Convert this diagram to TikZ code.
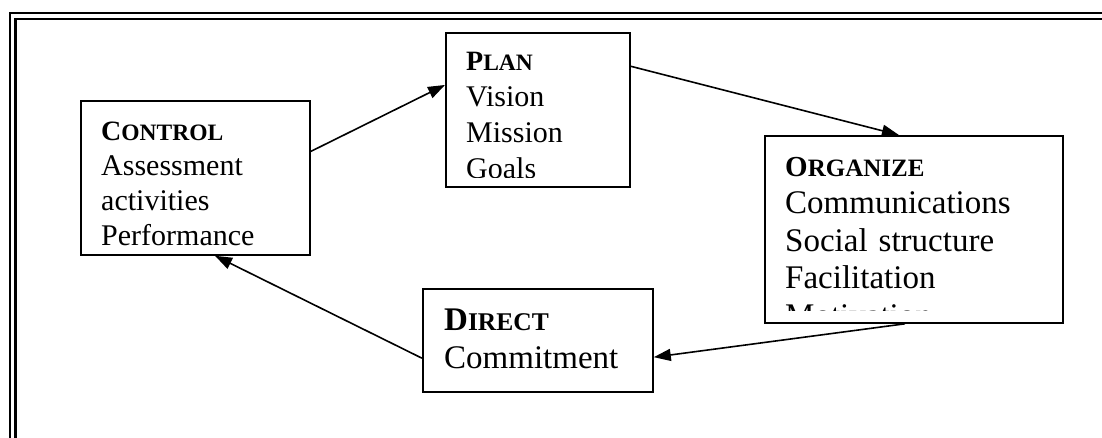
\documentclass[tikz,border=0pt]{standalone}
\usepackage{fontspec}
\setmainfont{Liberation Serif}
\usetikzlibrary{arrows.meta, calc}

% bold heading with a large first letter and faked small caps
\newcommand{\stagehead}[4]{{\bfseries\fontsize{#1}{#1}\selectfont #2\fontsize{#3}{#3}\selectfont #4}}

\begin{document}
\begin{tikzpicture}[x=1pt, y=-1pt,
		stage/.style={
			draw, line width=1.8pt, fill=white, anchor=north west, inner sep=0pt
		},
		stagetext/.style={
			anchor=base west, inner sep=0pt, align=left, text width=#1
		},
		arrow/.style={-{Triangle[length=17pt, width=12pt]}, line width=1.6pt},
		frame/.style={line width=2.4pt}
		]
		
		\useasboundingbox (0,0) rectangle (1102,437);
		\clip (0,0) rectangle (1102,437);
		
		\draw[frame] (10,13) rectangle (1140,480);
		\draw[frame] (15.5,19) rectangle (1134,474);
		
		\node[stage, minimum width=229pt, minimum height=154pt] (control) at (80,100) {};
		\node[stage, minimum width=184pt, minimum height=154pt] (plan) at (445,32) {};
		\node[stage, minimum width=298pt, minimum height=187pt] (organize) at (764,135) {};
		\node[stage, minimum width=230pt, minimum height=103pt] (direct) at (422,288) {};
		
		\begin{scope}
			\clip (control.north west) rectangle ([yshift=10pt]control.south east);
			\node[stagetext=200pt, font=\fontsize{30}{35}\selectfont] (controltxt) at (101,140)
			{\stagehead{28}{C}{23.5}{ONTROL}\\Assessment\\activities\\Performance};
		\end{scope}
		
		\begin{scope}
			\clip (plan.north west) rectangle ([yshift=10pt]plan.south east);
			\node[stagetext=160pt, font=\fontsize{30}{36}\selectfont] (plantxt) at (466,70)
			{\stagehead{28}{P}{23.5}{LAN}\\Vision\\Mission\\Goals};
		\end{scope}
		
		\begin{scope}
			\clip (organize.north west) rectangle ([yshift=13pt]organize.south east);
			\node[stagetext=270pt, font=\fontsize{33}{37.5}\selectfont] (organizetxt) at (785,176)
			{\stagehead{29}{O}{25}{RGANIZE}\\Communications\\Social structure\\Facilitation\\Motivation};
		\end{scope}
		
		\begin{scope}
			\clip (direct.north west) rectangle ([yshift=10pt]direct.south east);
			\node[stagetext=200pt, font=\fontsize{33}{38}\selectfont] (directtxt) at (444,330)
			{\stagehead{33}{D}{25.5}{IRECT}\\Commitment};
		\end{scope}
		
		\draw[arrow] ($(control.north east)!0.33!(control.south east)$) -- ($(plan.north west)!0.34!(plan.south west)$);
		\draw[arrow] ($(plan.north east)!0.22!(plan.south east)$) -- ($(organize.north west)!0.45!(organize.north east)$);
		\draw[arrow] ($(organize.south west)!0.47!(organize.south east)$) -- ($(direct.north east)!0.66!(direct.south east)$);
		\draw[arrow] ($(direct.north west)!0.67!(direct.south west)$) -- ($(control.south west)!0.585!(control.south east)$);
		
	\end{tikzpicture}
\end{document}
